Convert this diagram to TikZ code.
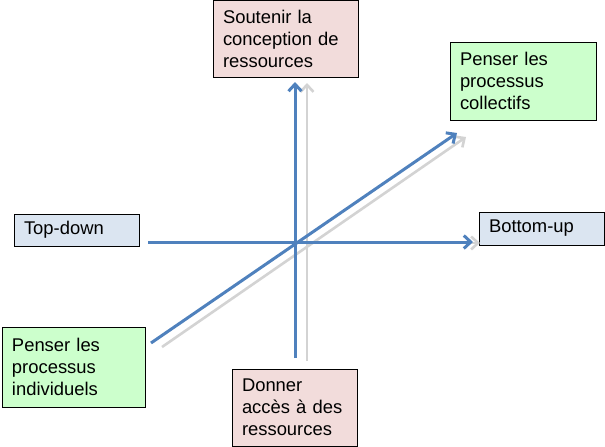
\documentclass[tikz,border=0pt]{standalone}
\usepackage{fontspec}
\setmainfont{Liberation Sans}
\usetikzlibrary{arrows.meta}
\definecolor{pinkfill}{HTML}{F2DCDB}
\definecolor{greenfill}{HTML}{CCFFCC}
\definecolor{bluefill}{HTML}{DBE5F1}
\definecolor{axisblue}{HTML}{4F81BD}
\definecolor{axisgray}{HTML}{D3D3D3}
\tikzset{
  labelbox/.style={draw=black, line width=1pt, align=left, inner xsep=10pt, inner ysep=0pt,
    font=\fontsize{18.4}{22}\selectfont, anchor=center},
  bluearrow/.style={draw=axisblue, line width=3pt, -{Straight Barb[length=7pt,width=13pt]}},
  grayarrow/.style={draw=axisgray, line width=2.6pt, -{Straight Barb[length=7pt,width=13pt]}}
}
\begin{document}
\begin{tikzpicture}[x=1pt,y=-1pt]
\useasboundingbox (0,0) rectangle (605,447);
% boxes
\node[labelbox, fill=pinkfill, minimum width=145pt, minimum height=77pt, text width=125pt] (sout) at (285.5,38.5) {Soutenir la\\conception de\\ressources};
\node[labelbox, fill=greenfill, minimum width=146pt, minimum height=78pt, text width=126pt] (coll) at (523,81) {Penser les\\processus\\collectifs};
\node[labelbox, fill=bluefill, minimum width=125pt, minimum height=32pt, text width=105pt] (top) at (76.5,230) {Top-down};
\node[labelbox, fill=bluefill, minimum width=125pt, minimum height=33pt, text width=105pt] (bot) at (541.5,228.5) {Bottom-up};
\node[labelbox, fill=greenfill, minimum width=143pt, minimum height=80pt, text width=123pt] (indiv) at (73.5,367) {Penser les\\processus\\individuels};
\node[labelbox, fill=pinkfill, minimum width=125pt, minimum height=77pt, text width=105pt] (donner) at (294.5,407.5) {Donner\\accès à des\\ressources};
% axis end points
\coordinate (gvs) at (307,361); \coordinate (gve) at (307,83);
\coordinate (ghs) at (160,243); \coordinate (ghe) at (480,243);
\coordinate (gds) at (162,347); \coordinate (gde) at (466,137);
\coordinate (bvs) at (295,358); \coordinate (bve) at (295,82);
\coordinate (bhs) at (148,242); \coordinate (bhe) at (473,242);
\coordinate (bds) at (151,343); \coordinate (bde) at (457,133);
% gray shadow arrows
\draw[grayarrow] (gvs) -- (gve);
\draw[grayarrow] (ghs) -- (ghe);
\draw[grayarrow] (gds) -- (gde);
% blue arrows
\draw[bluearrow] (bvs) -- (bve);
\draw[bluearrow] (bhs) -- (bhe);
\draw[bluearrow] (bds) -- (bde);
\end{tikzpicture}
\end{document}
